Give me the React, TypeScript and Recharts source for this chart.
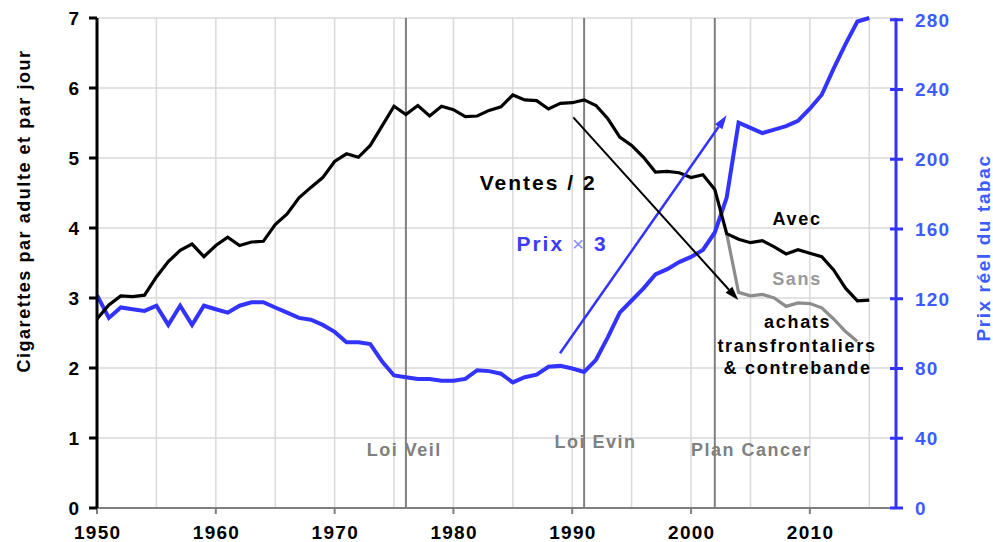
import { CartesianGrid, ComposedChart, Line, ReferenceDot, ReferenceLine, XAxis, YAxis } from "recharts";

const years = [
  1950, 1951, 1952, 1953, 1954, 1955, 1956, 1957, 1958, 1959,
  1960, 1961, 1962, 1963, 1964, 1965, 1966, 1967, 1968, 1969,
  1970, 1971, 1972, 1973, 1974, 1975, 1976, 1977, 1978, 1979,
  1980, 1981, 1982, 1983, 1984, 1985, 1986, 1987, 1988, 1989,
  1990, 1991, 1992, 1993, 1994, 1995, 1996, 1997, 1998, 1999,
  2000, 2001, 2002, 2003, 2004, 2005, 2006, 2007, 2008, 2009,
  2010, 2011, 2012, 2013, 2014, 2015,
];

// ventes / 2, cigarettes par adulte et par jour (avec achats transfrontaliers)
const ventes = [
  2.7, 2.9, 3.03, 3.02, 3.04, 3.3, 3.52, 3.68, 3.77, 3.59,
  3.75, 3.87, 3.75, 3.8, 3.81, 4.05, 4.2, 4.43, 4.58, 4.72,
  4.95, 5.06, 5.01, 5.18, 5.46, 5.74, 5.62, 5.75, 5.6, 5.74,
  5.69, 5.59, 5.6, 5.68, 5.73, 5.9, 5.83, 5.82, 5.7, 5.78,
  5.79, 5.83, 5.75, 5.56, 5.3, 5.18, 5.01, 4.8, 4.81, 4.79,
  4.72, 4.76, 4.55, 3.92, 3.84, 3.79, 3.82, 3.73, 3.63, 3.69,
  3.64, 3.59, 3.4, 3.14, 2.96, 2.97,
];

// prix réel du tabac (axe de droite)
const prix = [
  122, 109, 115, 114, 113, 116, 105, 116, 105, 116,
  114, 112, 116, 118, 118, 115, 112, 109, 108, 105,
  101, 95, 95, 94, 84, 76, 75, 74, 74, 73,
  73, 74, 79, 78.5, 77, 72, 75, 76.5, 81, 81.5,
  80, 78, 85, 98, 112, 119, 126, 134, 137, 141,
  144, 148, 158, 178, 221, 218, 215, 217, 219, 222,
  229, 237, 252, 266, 279, 281,
];

// sans achats transfrontaliers & contrebande
const sansYears = [2003, 2004, 2005, 2006, 2007, 2008, 2009, 2010, 2011, 2012, 2013, 2014];
const sans = [3.92, 3.08, 3.03, 3.05, 3.0, 2.88, 2.93, 2.92, 2.86, 2.7, 2.52, 2.38];

const xTicks = [1950, 1955, 1960, 1965, 1970, 1975, 1980, 1985, 1990, 1995, 2000, 2005, 2010, 2015];
const leftTicks = [0, 1, 2, 3, 4, 5, 6, 7];
const rightTicks = [0, 40, 80, 120, 160, 200, 240, 280];

const events = [
  { year: 1976, label: "Loi Veil", lx: 1975.8, ly: 0.83 },
  { year: 1991, label: "Loi Evin", lx: 1991.9, ly: 0.95 },
  { year: 2002, label: "Plan Cancer", lx: 2005, ly: 0.83 },
];

const data = years.map((year, i) => {
  const k = sansYears.indexOf(year);
  return { year, ventes: ventes[i], prix: prix[i], sans: k >= 0 ? sans[k] : null };
});

const FONT = "'Liberation Sans', Arial, Helvetica, sans-serif";
const BLUE = "#3333ff";
const BLUE_TEXT = "#3d5cff";

const XTick = ({ x, y, payload }: any) => {
  if (payload.value % 10 !== 0) return <g />;
  return (
    <g>
      <line x1={x} x2={x} y1={y} y2={y + 6} stroke="#7f7f7f" strokeWidth={2} />
      <text x={x + 0.7} y={y + 31} textAnchor="middle" fontFamily={FONT} fontWeight="bold" fontSize={19} letterSpacing={1.3} fill="#000">
        {payload.value}
      </text>
    </g>
  );
};

const LeftTick = ({ x, y, payload }: any) => (
  <g>
    <line x1={x - 8} x2={x} y1={y} y2={y} stroke="#000" strokeWidth={3} />
    <text x={x - 18} y={y + 7} textAnchor="end" fontFamily={FONT} fontWeight="bold" fontSize={19} fill="#000">
      {payload.value}
    </text>
  </g>
);

const RightTick = ({ x, y, payload }: any) => (
  <g>
    <line x1={x - 6} x2={x + 7} y1={y} y2={y} stroke={BLUE} strokeWidth={3} />
    <text x={x + 19} y={y + 7} textAnchor="start" fontFamily={FONT} fontWeight="bold" fontSize={19} letterSpacing={1.2} fill={BLUE_TEXT}>
      {payload.value}
    </text>
  </g>
);

const arrow = (color: string, width: number) => (p: any) => {
  const { x1, y1, x2, y2 } = p;
  const a = Math.atan2(y2 - y1, x2 - x1);
  const len = 14;
  const half = 4.5;
  const bx = x2 - len * Math.cos(a);
  const by = y2 - len * Math.sin(a);
  const pts = `${x2},${y2} ${bx + half * Math.sin(a)},${by - half * Math.cos(a)} ${bx - half * Math.sin(a)},${by + half * Math.cos(a)}`;
  return (
    <g>
      <line x1={x1} y1={y1} x2={bx} y2={by} stroke={color} strokeWidth={width} />
      <polygon points={pts} fill={color} />
    </g>
  );
};

const note = (text: any, color: string, size: number, spacing: number) => (p: any) => (
  <text x={p.cx + spacing / 2} y={p.cy} dominantBaseline="central" textAnchor="middle" fontFamily={FONT} fontWeight="bold" fontSize={size} letterSpacing={spacing} fill={color}>
    {text}
  </text>
);

const notes = [
  { x: 1987.05, y: 4.65, text: "Ventes / 2", color: "#000", size: 21, spacing: 2 },
  { x: 2008.85, y: 4.13, text: "Avec", color: "#000", size: 18, spacing: 1.7 },
  { x: 2008.85, y: 3.27, text: "Sans", color: "#999999", size: 18, spacing: 1.7 },
  { x: 2008.9, y: 2.66, text: "achats", color: "#000", size: 18, spacing: 1.7 },
  { x: 2008.85, y: 2.31, text: "transfrontaliers", color: "#000", size: 18, spacing: 1.7 },
  { x: 2008.9, y: 2.0, text: "& contrebande", color: "#000", size: 18, spacing: 1.7 },
];

const prixLabel = (
  <>
    <tspan fontWeight="bold" fill="#3b3bf5">Prix </tspan>
    <tspan fontWeight="normal" fill="#8a8aff">×</tspan>
    <tspan fontWeight="bold" fill="#3b3bf5"> 3</tspan>
  </>
);

export default function App() {
  return (
    <div style={{ position: "absolute", left: 0, top: 0, width: 993, height: 542, background: "#fff" }}>
      <ComposedChart width={993} height={542} data={data} margin={{ top: 18, right: 0, bottom: 0, left: 0 }}>
        <CartesianGrid yAxisId="left" stroke="#d9d9d9" strokeWidth={1.5} />
        <XAxis
          dataKey="year"
          type="number"
          domain={[1950, 2017.25]}
          ticks={xTicks}
          height={34}
          tickSize={0}
          tickMargin={0}
          tickLine={false}
          axisLine={{ stroke: "#7f7f7f", strokeWidth: 2 }}
          tick={<XTick />}
          allowDataOverflow
        />
        <YAxis
          yAxisId="left"
          domain={[0, 7]}
          ticks={leftTicks}
          width={97}
          tickSize={0}
          tickMargin={0}
          tickLine={false}
          axisLine={{ stroke: "#000", strokeWidth: 3 }}
          tick={<LeftTick />}
          label={{
            content: () => (
              <text
                x={29.5}
                y={211}
                transform="rotate(-90, 29.5, 211)"
                textAnchor="middle"
                fontFamily={FONT}
                fontWeight="bold"
                fontSize={18}
                letterSpacing={1.55}
                fill="#000"
              >
                Cigarettes par adulte et par jour
              </text>
            ),
          }}
        />
        <YAxis
          yAxisId="right"
          orientation="right"
          domain={[0, 280]}
          ticks={rightTicks}
          width={97}
          tickSize={0}
          tickMargin={0}
          tickLine={false}
          axisLine={{ stroke: BLUE, strokeWidth: 3 }}
          tick={<RightTick />}
          label={{
            content: () => (
              <text
                x={990}
                y={248}
                transform="rotate(-90, 990, 248)"
                textAnchor="middle"
                fontFamily={FONT}
                fontWeight="bold"
                fontSize={19}
                letterSpacing={1.6}
                fill={BLUE_TEXT}
              >
                Prix réel du tabac
              </text>
            ),
          }}
        />

        {events.map((e) => (
          <ReferenceLine key={e.year} x={e.year} yAxisId="left" stroke="#808080" strokeWidth={2} />
        ))}
        {events.map((e) => (
          <ReferenceDot key={e.label} x={e.lx} y={e.ly} yAxisId="left" r={1} shape={note(e.label, "#808080", 18, 1.5)} />
        ))}

        <Line yAxisId="right" dataKey="prix" type="linear" stroke={BLUE} strokeWidth={4} dot={false} isAnimationActive={false} />
        <Line yAxisId="left" dataKey="sans" type="linear" stroke="#8c8c8c" strokeWidth={3.2} dot={false} connectNulls={false} isAnimationActive={false} />
        <Line yAxisId="left" dataKey="ventes" type="linear" stroke="#000" strokeWidth={3.2} dot={false} isAnimationActive={false} />

        <ReferenceLine
          yAxisId="left"
          segment={[{ x: 1988.97, y: 2.21 }, { x: 2003.0, y: 5.61 }]}
          shape={arrow(BLUE, 2.5)}
        />
        <ReferenceLine
          yAxisId="left"
          segment={[{ x: 1990.09, y: 5.58 }, { x: 2003.98, y: 2.97 }]}
          shape={arrow("#000", 2)}
        />

        {notes.map((n) => (
          <ReferenceDot key={n.text} x={n.x} y={n.y} yAxisId="left" r={1} shape={note(n.text, n.color, n.size, n.spacing)} />
        ))}
        <ReferenceDot x={1989.06} y={3.79} yAxisId="left" r={1} shape={note(prixLabel, "#3b3bf5", 21, 2)} />
      </ComposedChart>
    </div>
  );
}
